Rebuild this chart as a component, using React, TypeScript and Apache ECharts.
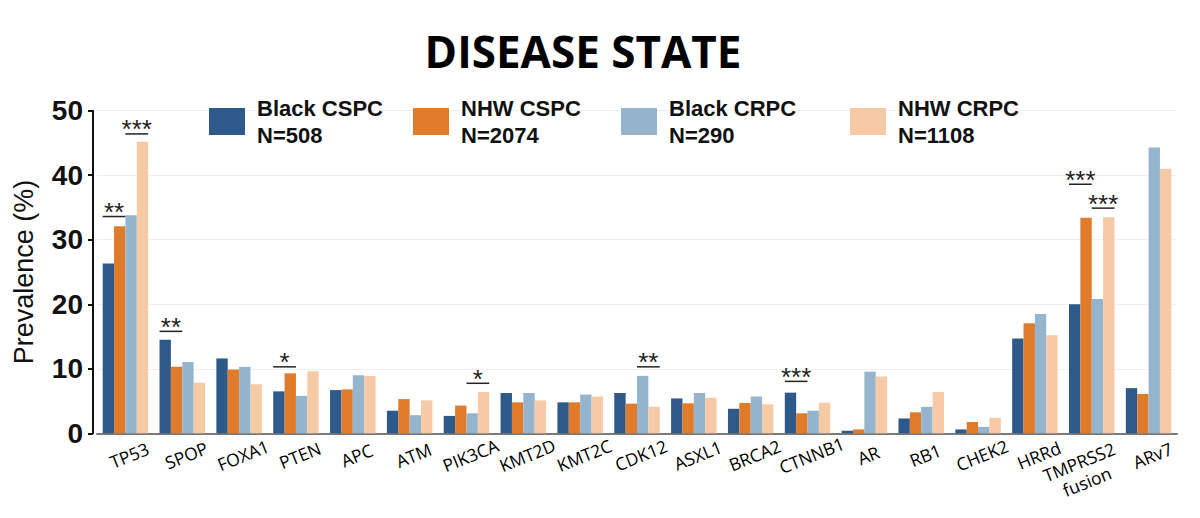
import React, { useEffect, useRef } from "react";
import * as echarts from "echarts";

const categories = ["TP53", "SPOP", "FOXA1", "PTEN", "APC", "ATM", "PIK3CA", "KMT2D", "KMT2C", "CDK12", "ASXL1", "BRCA2", "CTNNB1", "AR", "RB1", "CHEK2", "HRRd", "TMPRSS2\nfusion", "ARv7"];
const seriesNames = ["Black CSPC", "NHW CSPC", "Black CRPC", "NHW CRPC"];
const seriesN = ["N=508", "N=2074", "N=290", "N=1108"];
const seriesColors = ["#2d5a8b", "#e07b2c", "#94b5cd", "#f7caa6"];
const blackCSPC = [26.3, 14.5, 11.6, 6.5, 6.7, 3.5, 2.7, 6.25, 4.8, 6.25, 5.4, 3.8, 6.3, 0.4, 2.3, 0.6, 14.7, 20.0, 7.0];
const nhwCSPC = [32.1, 10.3, 9.9, 9.3, 6.8, 5.3, 4.3, 4.8, 4.8, 4.6, 4.65, 4.7, 3.1, 0.6, 3.25, 1.75, 17.05, 33.4, 6.1];
const blackCRPC = [33.8, 11.05, 10.3, 5.8, 9.0, 2.8, 3.1, 6.25, 6.0, 8.9, 6.25, 5.7, 3.5, 9.55, 4.1, 1.0, 18.5, 20.8, 44.3];
const nhwCRPC = [45.2, 7.85, 7.6, 9.6, 8.9, 5.1, 6.4, 5.1, 5.7, 4.1, 5.5, 4.5, 4.75, 8.8, 6.4, 2.4, 15.2, 33.5, 41.0];
const seriesValues = [blackCSPC, nhwCSPC, blackCRPC, nhwCRPC];
const yTicks = [0, 10, 20, 30, 40, 50];

// significance brackets
const sigCats = [0, 0, 1, 3, 6, 9, 12, 17, 17];
const sigPairs = ["L", "R", "L", "L", "R", "R", "L", "L", "R"];
const sigLevels = [33.6, 46.4, 15.8, 10.3, 7.75, 10.3, 8.05, 38.6, 34.9];
const sigLabels = ["**", "***", "**", "*", "*", "**", "***", "***", "***"];

const legendLefts = [209, 413, 621, 850];

export default function App() {
  const ref = useRef<HTMLDivElement>(null);
  useEffect(() => {
    const chart = echarts.init(ref.current!, null, { renderer: "svg" });
    const sigData = sigCats.map((c, i) => [c, sigLevels[i], sigPairs[i] === "L" ? -0.4 : 0, sigPairs[i] === "L" ? 0 : 0.4]);
    const labelFont = { fontFamily: "Open Sans", fontSize: 17.5, color: "#000", lineHeight: 21 };
    const option: any = {
      animation: false,
      backgroundColor: "#fff",
      graphic: [
        {
          type: "text",
          x: 583,
          y: 51,
          style: {
            text: "DISEASE STATE",
            align: "center",
            verticalAlign: "middle",
            fontFamily: "Open Sans",
            fontWeight: "bold",
            fontSize: 44,
            fill: "#000",
          },
        },
      ],
      legend: seriesNames.map((n, i) => ({
        data: [n],
        left: legendLefts[i],
        top: 81,
        padding: 0,
        icon: "rect",
        itemWidth: 36,
        itemHeight: 27,
        selectedMode: false,
        formatter: (name: string) => name + "\n" + seriesN[i],
        textStyle: {
          fontFamily: "Liberation Sans",
          fontWeight: "bold",
          fontSize: 22,
          lineHeight: 27,
          color: "#111",
          padding: [27, 0, 0, 7],
        },
      })),
      grid: { left: 97, right: 23, top: 110.7, bottom: 84.7, containLabel: false },
      xAxis: {
        type: "category",
        data: categories,
        axisLine: { lineStyle: { color: "#7a7a7a", width: 2 } },
        axisTick: { alignWithLabel: true, length: 9, lineStyle: { color: "#333", width: 2 } },
        axisLabel: {
          interval: 0,
          rotate: 22,
          align: "center",
          verticalAlign: "top",
          margin: 12,
          ...labelFont,
          formatter: (v: string) => (v.indexOf("\n") >= 0 ? "{w|" + v + "}" : v),
          rich: { w: { ...labelFont, padding: [0, 36, 0, 0] } },
        },
      },
      yAxis: {
        type: "value",
        min: 0,
        max: 50,
        interval: 10,
        offset: 4,
        name: "Prevalence (%)",
        nameLocation: "middle",
        nameGap: 56,
        nameTextStyle: { fontFamily: "Liberation Sans", fontSize: 27, color: "#111" },
        axisLine: { show: true, lineStyle: { color: "#111", width: 2 } },
        axisTick: { show: true, length: 5, lineStyle: { color: "#111", width: 2 } },
        axisLabel: {
          fontFamily: "Liberation Sans",
          fontWeight: "bold",
          fontSize: 28,
          color: "#111",
          margin: 10,
          formatter: (v: number) => (yTicks.includes(v) ? String(v) : ""),
        },
        splitLine: { show: true, lineStyle: { color: "#f0f0f0", width: 1 } },
      },
      series: [
        ...seriesNames.map((n, i) => ({
          name: n,
          type: "bar",
          data: seriesValues[i],
          barGap: "0%",
          barCategoryGap: "20%",
          itemStyle: { color: seriesColors[i] },
        })),
        {
          type: "custom",
          data: sigData,
          z: 5,
          renderItem: (params: any, api: any) => {
            const c = api.coord([api.value(0), api.value(1)]);
            const band = api.size([1, 0])[0];
            const x1 = c[0] + api.value(2) * band;
            const x2 = c[0] + api.value(3) * band;
            return {
              type: "group",
              children: [
                { type: "line", shape: { x1, y1: c[1], x2, y2: c[1] }, style: { stroke: "#222", lineWidth: 1.5 } },
                {
                  type: "text",
                  style: {
                    text: sigLabels[params.dataIndex],
                    x: (x1 + x2) / 2,
                    y: c[1] - 4.5,
                    align: "center",
                    verticalAlign: "middle",
                    fontFamily: "Liberation Sans",
                    fontSize: 26,
                    fill: "#222",
                  },
                },
              ],
            };
          },
        },
      ],
    };
    chart.setOption(option);
    return () => chart.dispose();
  }, []);
  return <div ref={ref} style={{ position: "fixed", left: 0, top: 0, width: 1200, height: 518 }} />;
}
